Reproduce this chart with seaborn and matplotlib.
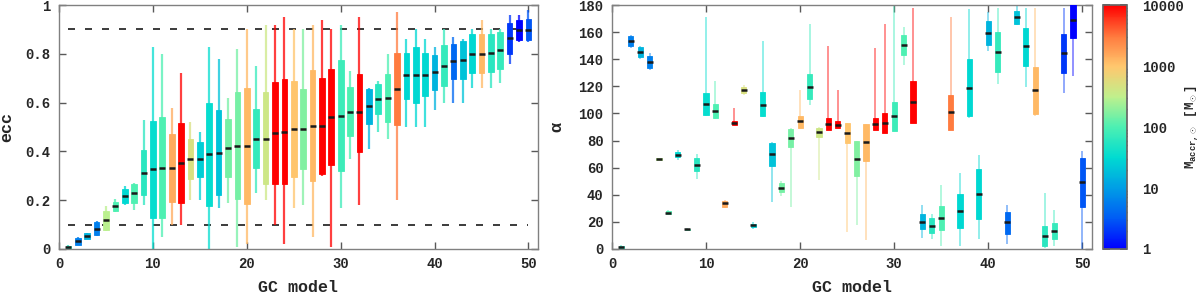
import numpy as np
import pandas as pd
import matplotlib
matplotlib.use('Agg')
import matplotlib.pyplot as plt
import seaborn as sns
from matplotlib.colors import LinearSegmentedColormap, LogNorm
from matplotlib.ticker import FixedLocator, FuncFormatter, LogLocator, NullFormatter

# GC models (sorted by median eccentricity) and their accreted mass
model = np.arange(1, 51)
mass = [60, 6, 15, 6, 300, 100, 30, 100, 60, 35,
        100, 1500, 10000, 500, 25, 35, 20, 150, 150, 1200,
        70, 400, 10000, 10000, 1000, 170, 1200, 10000, 10000, 80,
        100, 10000, 15, 60, 100, 3000, 30, 30, 30, 15,
        70, 4, 20, 30, 1200, 60, 70, 2, 1, 3]

# eccentricity: min, q1, median, q3, max
ecc_lo = [0.0, 0.015, 0.04, 0.055, 0.075, 0.15, 0.18, 0.16, 0.18, 0.0,
          0.05, 0.10, 0.10, 0.20, 0.20, 0.0, 0.17, 0.19, 0.01, 0.02,
          0.23, 0.20, 0.10, 0.02, 0.17, 0.18, 0.05, 0.30, 0.01, 0.17,
          0.37, 0.18, 0.41, 0.48, 0.45, 0.20, 0.50, 0.50, 0.50, 0.57,
          0.60, 0.60, 0.60, 0.66, 0.66, 0.66, 0.68, 0.76, 0.85, 0.85]
ecc_q1 = [0.003, 0.017, 0.041, 0.057, 0.077, 0.156, 0.19, 0.19, 0.22, 0.126,
          0.126, 0.194, 0.19, 0.286, 0.296, 0.177, 0.221, 0.294, 0.205, 0.183,
          0.331, 0.265, 0.268, 0.265, 0.295, 0.328, 0.279, 0.309, 0.344, 0.32,
          0.462, 0.399, 0.512, 0.552, 0.522, 0.509, 0.617, 0.60, 0.626, 0.653,
          0.667, 0.695, 0.695, 0.72, 0.72, 0.725, 0.738, 0.798, 0.855, 0.858]
ecc_med = [0.008, 0.034, 0.055, 0.083, 0.118, 0.176, 0.217, 0.228, 0.313, 0.328,
           0.333, 0.333, 0.354, 0.368, 0.368, 0.388, 0.395, 0.414, 0.423, 0.422,
           0.452, 0.452, 0.477, 0.478, 0.493, 0.49, 0.505, 0.505, 0.541, 0.546,
           0.563, 0.56, 0.585, 0.615, 0.62, 0.654, 0.712, 0.713, 0.714, 0.725,
           0.751, 0.769, 0.773, 0.80, 0.80, 0.805, 0.814, 0.865, 0.899, 0.899]
ecc_q3 = [0.012, 0.046, 0.064, 0.111, 0.157, 0.194, 0.246, 0.266, 0.406, 0.526,
          0.54, 0.47, 0.518, 0.451, 0.437, 0.597, 0.57, 0.533, 0.645, 0.661,
          0.572, 0.645, 0.686, 0.695, 0.689, 0.654, 0.732, 0.702, 0.738, 0.773,
          0.664, 0.718, 0.657, 0.676, 0.718, 0.802, 0.802, 0.828, 0.802, 0.794,
          0.836, 0.84, 0.854, 0.881, 0.881, 0.881, 0.888, 0.928, 0.939, 0.941]
ecc_hi = [0.015, 0.048, 0.066, 0.115, 0.177, 0.205, 0.26, 0.27, 0.53, 0.83,
          0.80, 0.58, 0.72, 0.52, 0.48, 0.83, 0.78, 0.62, 0.82, 0.90,
          0.75, 0.92, 0.92, 0.95, 0.90, 0.90, 0.92, 0.94, 0.90, 0.92,
          0.73, 0.95, 0.66, 0.69, 0.80, 0.97, 0.86, 0.90, 0.86, 0.83,
          0.90, 0.87, 0.86, 0.90, 0.94, 0.90, 0.90, 0.96, 0.96, 0.98]

# inclination angle alpha: min, q1, median, q3, max
alp_lo = [0, 148, 140, 132, 65.5, 25, 66, 13.8, 52, 98,
          96, 30.5, 91.5, 114, 15, 97.5, 34.5, 39, 31, 89,
          106, 51, 88, 89, 12.8, 18, 7, 88, 85.8, 87,
          135.5, 92.7, 8.3, 7.4, 2.5, 87.8, 2.2, 96.4, 7.1, 146,
          121.5, 3.5, 165, 119.2, 98, 0.5, 2.5, 115.3, 127.8, 0]
alp_q1 = [0.5, 150, 141.4, 133.5, 65.8, 25.5, 67.8, 14, 57.7, 99,
          96.4, 31, 91.5, 115, 16.5, 97.9, 61, 42, 75.2, 89.4,
          110.6, 82.6, 88, 89.2, 78.4, 53.8, 64.9, 88, 85.8, 87,
          143, 92.7, 14.5, 11.6, 14, 87.8, 15.5, 98.1, 21.9, 150.7,
          130.8, 11.1, 166.4, 135.2, 99.6, 2.2, 7.1, 130, 155.4, 31.2]
alp_med = [1.5, 153.2, 145.5, 137.9, 66.6, 26.8, 69.5, 14.5, 62.2, 106.9,
           101.8, 33.7, 93.1, 117.3, 17.5, 106.4, 69.8, 45.2, 81.9, 94.2,
           119.5, 86.3, 92.4, 91.4, 85.8, 66.6, 78.9, 92.4, 93.1, 97.9,
           150.4, 108.6, 20.1, 17.2, 22.9, 100.8, 28.3, 118.7, 40.6, 159.3,
           145.1, 19.7, 170.9, 149.5, 117, 9.8, 13.5, 144.8, 169.1, 49.2]
alp_q3 = [2.5, 156.9, 149.2, 142.3, 67.3, 28, 71.3, 15, 66.9, 115.3,
          107.2, 35.5, 94.2, 119.5, 18.5, 115.5, 78, 48.7, 88.7, 98.1,
          129.1, 89.5, 96.4, 94.2, 92.7, 79.6, 92.2, 96.6, 100.1, 108.2,
          158, 123.9, 25.8, 22.6, 31.7, 114, 40.6, 139.9, 58.8, 168.1,
          159.8, 27.5, 175.3, 163, 134.4, 17.2, 19.2, 159, 182, 67.1]
alp_hi = [3, 158, 150, 145, 67.5, 29, 73, 15.2, 70, 171,
          124, 36, 104, 121, 20, 153.2, 79, 50, 89, 117,
          166, 89.8, 150, 117.5, 93, 80, 92.5, 148, 166, 180,
          163.5, 178, 32.4, 25.6, 47.2, 171, 55.8, 177, 69.1, 175,
          177.7, 32.4, 180, 177.5, 177.5, 41.5, 28.8, 177.5, 185, 72.5]

sns.set_theme(style='ticks')
plt.rcParams['font.family'] = ['Liberation Mono', 'DejaVu Sans Mono']
plt.rcParams['font.weight'] = 'bold'
plt.rcParams['axes.labelweight'] = 'bold'
plt.rcParams['font.size'] = 10
plt.rcParams['mathtext.fontset'] = 'custom'
plt.rcParams['mathtext.rm'] = 'Liberation Mono:bold'
plt.rcParams['mathtext.it'] = 'Liberation Mono:bold'
plt.rcParams['mathtext.bf'] = 'Liberation Mono:bold'

cmap = LinearSegmentedColormap.from_list('accr', [
    (0.0, (0.0, 0.0, 1.0)),
    (0.125, (0.0, 0.36, 0.96)),
    (0.25, (0.0, 0.62, 0.9)),
    (0.375, (0.0, 0.86, 0.82)),
    (0.5, (0.3, 0.94, 0.7)),
    (0.625, (0.75, 0.94, 0.55)),
    (0.75, (1.0, 0.78, 0.43)),
    (0.875, (1.0, 0.47, 0.24)),
    (1.0, (1.0, 0.0, 0.0))])
norm = LogNorm(1, 10000)
cols = [cmap(norm(m)) for m in mass]

fig = plt.figure(figsize=(12, 2.96), dpi=100)
ax1 = fig.add_axes([0.0492, 0.1588, 0.399, 0.824])
ax2 = fig.add_axes([0.51, 0.1588, 0.3998, 0.824])
cax = fig.add_axes([0.919, 0.1588, 0.02, 0.824])


def draw_boxes(ax, lo, q1, med, q3, hi, wlw, walpha, bw):
    df = pd.DataFrame({'model': model, 'lo': lo, 'q1': q1, 'med': med, 'q3': q3, 'hi': hi})
    ax.vlines(df['model'], df['lo'], df['hi'], colors=cols, lw=wlw, alpha=walpha, zorder=2)
    ax.bar(df['model'], df['q3'] - df['q1'], bottom=df['q1'], width=bw,
           color=cols, edgecolor=cols, linewidth=0.6, zorder=3)
    sns.scatterplot(data=df, x='model', y='med', marker='_', s=bw * 28, color='k',
                    linewidth=1.8, zorder=4, ax=ax, legend=False)


def bold_ticks(ax):
    for t in ax.get_xticklabels() + ax.get_yticklabels():
        t.set_fontweight('bold')


draw_boxes(ax1, ecc_lo, ecc_q1, ecc_med, ecc_q3, ecc_hi, 1.6, 0.75, 0.6)
ax1.plot([1, 50], [0.1, 0.1], color='k', lw=1.2, dashes=(4.2, 6), zorder=1)
ax1.plot([1, 50], [0.9, 0.9], color='k', lw=1.2, dashes=(4.2, 6), zorder=1)
ax1.set_ylim(0, 1)
ax1.set_yticks([0, 0.2, 0.4, 0.6, 0.8, 1])
ax1.yaxis.set_major_formatter(FuncFormatter(lambda v, p: '%g' % v))
ax1.set_ylabel('ecc', fontweight='bold')
ax1.yaxis.set_label_coords(-0.094, 0.5)

draw_boxes(ax2, alp_lo, alp_q1, alp_med, alp_q3, alp_hi, 1.1, 0.55, 0.55)
ax2.set_ylim(0, 180)
ax2.set_yticks(range(0, 181, 20))
ax2.set_ylabel('α', fontweight='bold')
ax2.yaxis.set_label_coords(-0.1, 0.5)

for ax in (ax1, ax2):
    ax.set_xlim(0, 51)
    ax.set_xticks([0, 10, 20, 30, 40, 50])
    ax.set_xlabel('GC model', labelpad=6, fontweight='bold')
    ax.tick_params(direction='in', length=5, width=1, color='0.35', pad=6,
                   top=True, right=True, labelsize=10)
    for s in ax.spines.values():
        s.set_color('0.5')
        s.set_linewidth(1)
    bold_ticks(ax)

sm = plt.cm.ScalarMappable(norm=norm, cmap=cmap)
cb = fig.colorbar(sm, cax=cax)
cb.outline.set_edgecolor('0.4')
cax.yaxis.set_major_locator(FixedLocator([1, 10, 100, 1000, 10000]))
cax.yaxis.set_major_formatter(FuncFormatter(lambda v, p: '%d' % v))
cax.yaxis.set_minor_locator(LogLocator(base=10, subs=np.arange(2, 10)))
cax.yaxis.set_minor_formatter(NullFormatter())
cax.tick_params(which='both', direction='in', left=True, right=True, color='0.3', labelsize=10)
cax.tick_params(which='major', length=5, pad=11)
cax.tick_params(which='minor', length=3)
bold_ticks(cax)
cb.set_label(r'M$_{\mathrm{accr,\odot}}$ [M$_\odot$]', fontweight='bold', fontsize=9)
cax.yaxis.set_label_coords(3.36, 0.5)

fig.savefig('out.png', dpi=100)
